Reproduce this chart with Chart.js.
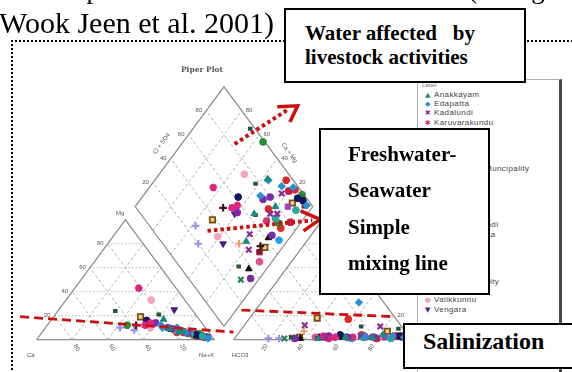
<!DOCTYPE html>
<html>
<head>
<meta charset="utf-8">
<title>Piper plot</title>
<script src="https://cdn.jsdelivr.net/npm/chart.js@4.4.1/dist/chart.umd.min.js"></script>
<style>
  html, body { margin: 0; padding: 0; background: #fff; }
  body { position: relative; width: 572px; height: 372px; overflow: hidden; font-family: "Liberation Serif", "Times New Roman", serif; color: #000; }
  .abs { position: absolute; white-space: pre; }
  #cut { left: 0; top: -26px; font-size: 27px; line-height: 30px; word-spacing: 2.8px; z-index: 4; }
  #cite { left: -1px; top: 6px; font-size: 30px; line-height: 34px; z-index: 4; }
  #frame { left: 11px; top: 40px; width: 600px; height: 400px; border-left: 2px dotted #000; border-top: 2px dotted #000; z-index: 0; }
  #wrap { position: absolute; left: 0; top: 0; width: 572px; height: 372px; z-index: 1; }
  #legend { left: 417px; top: 79px; width: 141px; height: 300px; background: #fff; border-left: 1px solid #b0b0b0; border-top: 1px solid #b0b0b0; border-right: 3px solid #4a4a4a; z-index: 2; font-family: "Liberation Sans", Arial, sans-serif; color: #444; }
  #legend .ttl { position: absolute; left: 4px; top: 2px; font-size: 6px; color: #777; }
  #legend .item { position: absolute; left: 6px; height: 9px; line-height: 9px; font-size: 8px; letter-spacing: 0.4px; white-space: nowrap; }
  #legend .mk { display: inline-block; width: 8px; font-size: 7px; font-family: "DejaVu Sans", sans-serif; text-align: center; margin-right: 2px; }
  .box { position: absolute; box-sizing: border-box; background: #fff; border: 2.5px solid #000; z-index: 3; }
  .note { position: absolute; z-index: 4; font-weight: bold; font-size: 21px; line-height: 24px; white-space: pre; }
</style>
</head>
<body>
<div id="cut" class="abs">All the plots are shown at a similar level (Seung-</div>
<div id="cite" class="abs">Wook Jeen et al. 2001)</div>
<div id="frame" class="abs"></div>
<div id="wrap"><canvas id="piper"></canvas></div>
<div id="legend" class="abs"><div class="ttl">Label</div></div>

<div class="box" style="left:284px;top:8px;width:242px;height:75px;"></div>
<div class="note" style="left:305px;top:21px;">Water affected   by</div>
<div class="note" style="left:305px;top:45px;">livestock activities</div>

<div class="box" style="left:319px;top:128px;width:171px;height:167px;"></div>
<div class="note" style="left:348px;top:142px;">Freshwater-</div>
<div class="note" style="left:348px;top:178px;">Seawater</div>
<div class="note" style="left:348px;top:215px;">Simple</div>
<div class="note" style="left:348px;top:251px;">mixing line</div>

<div class="box" style="left:403px;top:323px;width:200px;height:46px;"></div>
<div class="note" style="left:423px;top:327px;font-size:24px;line-height:28px;">Salinization</div>

<script>
// sites in the legend
const sites = ['Anakkayam', 'Edapatta', 'Kadalundi', 'Karuvarakundu', 'Keezhattur', 'Kondotty',
  'Kottakkal', 'Kuttippuram', 'Malappuram Muncipality', 'Manjeri', 'Melattur', 'Morayur',
  'Nilambur', 'Pandikkad', 'Parappanangadi', 'Perinthalmanna', 'Ponnani', 'Pookkottur',
  'Pulpatta', 'Tanur', 'Tirur Muncipality', 'Tirurangadi', 'Valikkunnu', 'Vengara'];

// one entry per water sample (percent of meq/l), grouped by site
const sampleSite = [
  0, 0, 0, 0,  1, 1, 1, 1, 1,  2, 2, 2, 2, 2,  3, 3, 3,  4, 4,  5, 5, 5, 5,  6, 6, 6,  7, 7, 7,  8,  9, 9,
  10, 10, 10, 10, 10,  11, 11,  12,  13, 13,  14, 14,  15, 15, 15,  16,  17,  18,  19, 19, 19, 19,  20,  21, 21,  22, 22,  23, 23];
const mgPct = [
  17, 7, 6, 9,  10, 6, 1, 10, 12,  6, 7, 8, 7, 5,  43, 14, 12,  3, 5,  24, 21, 6, 8,  3, 4, 16,  12, 4, 5,  5,  12, 4,
  14, 2, 10, 9, 4,  2, 6,  6,  3, 4,  10, 8,  19, 3, 4,  8,  2,  3,  8, 5, 3, 6,  2,  4, 2,  33, 10,  25, 10];
const nakPct = [
  63, 79, 77, 70,  74, 81, 96, 66, 64,  82, 77, 76, 79, 83,  36, 57, 55,  92, 84,  31, 57, 82, 70,  92, 88, 54,  45, 88, 89,  86,  50, 87,
  60, 95, 69, 72, 89,  94, 80,  80,  90, 88,  42, 51,  49, 90, 87,  74,  93,  90,  74, 83, 91, 76,  95,  89, 95,  48, 59,  65, 59];
const so4Pct = [
  4, 2, 1, 2,  3, 2, 1, 2, 31,  12, 11, 2, 3, 2,  3, 2, 1,  1, 2,  9, 11, 2, 3,  2, 3, 4,  4, 3, 2,  2,  2, 2,
  3, 1, 3, 2, 2,  1, 3,  2,  1, 2,  1, 1,  2, 18, 7,  7,  2,  1,  3, 2, 17, 4,  1,  2, 2,  2, 1,  2, 2];
const clPct = [
  82, 77, 47, 62,  88, 95, 96, 73, 55,  34, 77, 51, 70, 75,  49, 56, 53,  88, 72,  87, 65, 30, 60,  95, 92, 58,  95, 71, 97,  84,  47, 52,
  52, 34, 72, 78, 63,  80, 90,  66,  37, 60,  25, 19,  36, 38, 83,  36,  45,  28,  93, 95, 56, 70,  66,  49, 94,  73, 33,  32, 51];

// grid ticks (percent)
const ticks = [20, 40, 60, 80];

// hand-drawn annotations, in diagram units
const livestockArrow = [{x: 111.5, y: 141.4}, {x: 141.5, y: 166.2}];
const livestockHead = [{x: 135.5, y: 168.3}, {x: 147.0, y: 169.0}, {x: 142.6, y: 157.2}];
const mixingArrow = [{x: 96.2, y: 78.6}, {x: 155.2, y: 86.2}];
const mixingHead = [{x: 148.6, y: 93.1}, {x: 159.6, y: 86.9}, {x: 150.3, y: 78.6}];
const salinityLeft = [{x: -9.3, y: 16.6}, {x: 110.9, y: 5.5}];
const salinityRight = [{x: 115.3, y: 21.4}, {x: 201.6, y: 16.6}];

// marker styles
const siteColours = ['#178b7d', '#2b8fd2', '#8a2b98', '#e0237c', '#2aa89a', '#1d5a31', '#16165e', '#2b8a3b',
  '#a143c2', '#3b1313', '#7b2ba9', '#c42042', '#d2336c', '#111111', '#9d91e5', '#7c4c14', '#e9a172', '#e15493',
  '#218150', '#e22525', '#21a1e1', '#8b1535', '#f2a3c3', '#4b1b82'];
const siteMarkers = ['triangle', 'rectRot', 'crossRot', 'star', 'circle', 'dash', 'circle', 'circle',
  'rect', 'cross', 'circle', 'rectRounded', 'circle', 'triangle', 'cross', 'rect', 'cross', 'circle',
  'crossRot', 'circle', 'star', 'rect', 'circle', 'triangleDown'];
const siteFill = {15: '#f2d88c'};
const glyphs = {triangle: '▲', triangleDown: '▼', rectRot: '◆', crossRot: '✖', star: '✱', circle: '●',
  dash: '▬', rect: '■', rectRounded: '■', cross: '✚'};

// piper geometry: triangle side 100, gap between the two triangles
const side = 100, gap = 11, h = Math.sqrt(3) / 2;
const rightOrigin = side + gap;
const tri = (origin, a, b) => ({x: origin + a + b / 2, y: b * h});
const diamond = (u, v) => ({x: side + gap / 2 + (u - v) * side / 2, y: gap * h + (u + v) * side * h});

const GAP = {x: null, y: null};
function segs(list) {
  const out = [];
  list.forEach(s => out.push(s[0], s[1], GAP));
  return out;
}

const outline = [
  tri(0, 0, 0), tri(0, 100, 0), tri(0, 0, 100), tri(0, 0, 0), GAP,
  tri(rightOrigin, 0, 0), tri(rightOrigin, 100, 0), tri(rightOrigin, 0, 100), tri(rightOrigin, 0, 0), GAP,
  diamond(0, 0), diamond(1, 0), diamond(1, 1), diamond(0, 1), diamond(0, 0)
];

const levelLines = [], slantLines = [];
[0, rightOrigin].forEach(o => {
  ticks.forEach(t => {
    levelLines.push([tri(o, 0, t), tri(o, 100 - t, t)]);
    slantLines.push([tri(o, t, 0), tri(o, t, 100 - t)]);
    slantLines.push([tri(o, 100 - t, 0), tri(o, 0, 100 - t)]);
  });
});
ticks.forEach(t => {
  slantLines.push([diamond(t / 100, 0), diamond(t / 100, 1)]);
  slantLines.push([diamond(0, t / 100), diamond(1, t / 100)]);
});

const datasets = [];
const red = '#cc1010';
const lineSet = (data, colour, width, dash, order) => ({
  data, showLine: true, spanGaps: false, pointRadius: 0, pointHoverRadius: 0,
  borderColor: colour, borderWidth: width, borderDash: dash, order, fill: false, isGuide: true
});

datasets.push(lineSet(livestockArrow, red, 4, [3.5, 3], 0));
datasets.push(lineSet(mixingArrow, red, 4, [3.5, 3], 0));
datasets.push(lineSet(livestockHead, red, 3.5, [], 0));
datasets.push(lineSet(mixingHead, red, 3.5, [], 0));
datasets.push(lineSet(salinityLeft, red, 2.8, [9, 5], 0));
datasets.push(lineSet(salinityRight, red, 2.8, [9, 5], 0));

sites.forEach((name, s) => {
  const data = [];
  sampleSite.forEach((site, i) => {
    if (site !== s) return;
    data.push(tri(0, nakPct[i], mgPct[i]));
    data.push(tri(rightOrigin, clPct[i], so4Pct[i]));
    data.push(diamond((so4Pct[i] + clPct[i]) / 100, (100 - nakPct[i]) / 100));
  });
  const marker = siteMarkers[s];
  const stroked = ['cross', 'crossRot', 'star', 'dash'].includes(marker);
  datasets.push({
    label: name, data, order: 1, marker,
    pointStyle: marker === 'triangleDown' ? 'triangle' : marker,
    rotation: marker === 'triangleDown' ? 180 : 0,
    pointRadius: marker === 'dash' ? 4.5 : marker === 'circle' ? 3.4 : 3.8,
    pointBorderWidth: marker === 'dash' ? 4 : stroked ? 2.2 : (siteFill[s] ? 1.8 : 1),
    pointBackgroundColor: siteFill[s] || siteColours[s],
    pointBorderColor: siteColours[s],
    showLine: false
  });
});

datasets.push(lineSet(outline, '#8c8c8c', 1.2, [], 2));
datasets.push(lineSet(segs(levelLines), '#a8a8a8', 0.8, [1.5, 2], 3));
datasets.push(lineSet(segs(slantLines), '#a0a0a0', 0.8, [3, 2.5], 3));

const piperLabels = {
  id: 'piperLabels',
  beforeDatasetsDraw(chart) {
    const {ctx} = chart, sx = chart.scales.x, sy = chart.scales.y;
    const text = (str, p, dx, dy, align, rot, font) => {
      ctx.save();
      ctx.translate(sx.getPixelForValue(p.x) + dx, sy.getPixelForValue(p.y) + dy);
      if (rot) ctx.rotate(rot * Math.PI / 180);
      ctx.font = font || '6px "Liberation Sans"';
      ctx.textAlign = align;
      ctx.textBaseline = 'middle';
      ctx.fillStyle = '#555';
      ctx.fillText(str, 0, 0);
      ctx.restore();
    };
    text('Piper Plot', diamond(1, 1), -22, -17, 'center', 0, 'bold 7.5px "DejaVu Serif"');
    text('Ca', tri(0, 0, 0), -2, 16, 'right');
    text('Na+K', tri(0, 100, 0), 0, 16, 'right');
    text('Mg', tri(0, 0, 100), -1, -6, 'right');
    text('HCO3', tri(rightOrigin, 0, 0), -2, 16, 'left');
    text('Cl', tri(rightOrigin, 100, 0), 2, 16, 'left');
    text('SO4', tri(rightOrigin, 0, 100), 2, -6, 'left');
    ticks.forEach(t => {
      text(String(t), tri(0, 0, t), -4, 0, 'right');
      text(String(t), tri(rightOrigin, 100 - t, t), 4, 0, 'left');
      text(String(100 - t), tri(0, t, 0), 4.5, 8, 'center', 60);
      text(String(t), tri(rightOrigin, t, 0), -4.5, 8, 'center', -60);
      text(String(t), diamond(t / 100, 1), -4, 0, 'right');
      text(String(t), diamond(1, t / 100), 4, 0, 'left');
    });
    text('Cl + SO4', diamond(0.5, 1), -18, -3, 'center', -54);
    text('Ca + Mg', diamond(1, 0.5), 21, 6, 'center', 54);
  }
};

const chart = new Chart(document.getElementById('piper'), {
  type: 'scatter',
  data: {datasets},
  options: {
    responsive: true,
    maintainAspectRatio: false,
    animation: false,
    events: [],
    layout: {padding: 0},
    plugins: {legend: {display: false}, tooltip: {enabled: false}},
    scales: {
      x: {type: 'linear', display: false, min: -15.85, max: 296.7},
      y: {type: 'linear', display: false, min: -17.24, max: 239.3}
    }
  },
  plugins: [piperLabels]
});

// html legend from the site datasets
const legend = document.getElementById('legend');
chart.data.datasets.filter(d => !d.isGuide).forEach((d, i) => {
  const item = document.createElement('div');
  item.className = 'item';
  item.style.top = (94 + 9.35 * i - 80 - 4.5) + 'px';
  const mk = document.createElement('span');
  mk.className = 'mk';
  mk.style.color = d.pointBorderColor;
  mk.textContent = glyphs[d.marker];
  item.appendChild(mk);
  item.appendChild(document.createTextNode(d.label));
  legend.appendChild(item);
});
</script>
</body>
</html>
